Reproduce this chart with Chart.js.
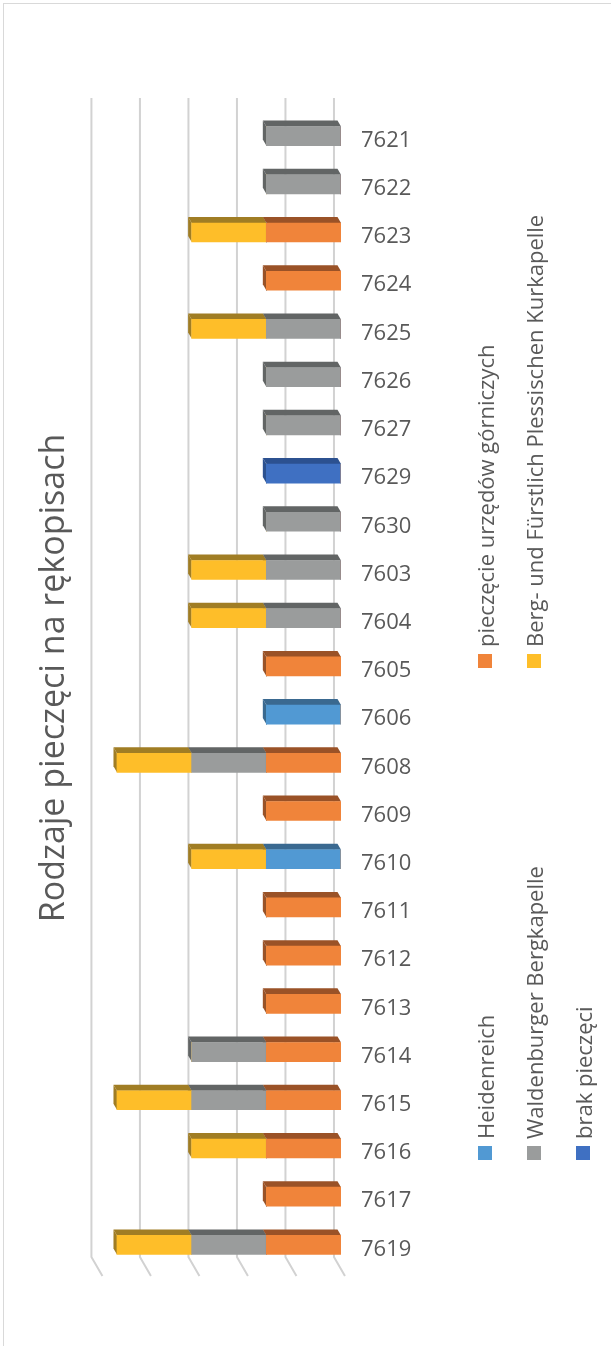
<!DOCTYPE html>
<html><head><meta charset="utf-8">
<script src="https://cdn.jsdelivr.net/npm/chart.js@4"></script>
<style>
html,body{margin:0;padding:0;background:#fff;}
#wrap{position:relative;width:611px;height:1346px;overflow:hidden;background:#fff;}
#frame{position:absolute;left:3px;top:3px;width:700px;height:1400px;border-left:1.5px solid #d9d9d9;border-top:1.5px solid #d9d9d9;box-sizing:border-box;}
#c{position:absolute;left:0;top:0;}
.lg{position:absolute;transform-origin:0 0;transform:rotate(-90deg);white-space:nowrap;font-family:"Open Sans",sans-serif;font-size:22px;color:#595959;height:24px;line-height:24px;display:flex;align-items:center;}
.lg i{display:inline-block;width:14px;height:14px;margin-right:7px;flex:none;}
</style></head>
<body>
<div id="wrap">
<div id="frame"></div>
<canvas id="c" width="611" height="1346"></canvas>
</div>
<script>
// ---- data ----
const categories = ['7621','7622','7623','7624','7625','7626','7627','7629','7630','7603','7604','7605','7606','7608','7609','7610','7611','7612','7613','7614','7615','7616','7617','7619'];
const pieczecieUrzedow = [0,0,1,1,0,0,0,0,0,0,0,1,0,1,1,0,1,1,1,1,1,1,1,1];
const heidenreich      = [0,0,0,0,0,0,0,0,0,0,0,0,1,0,0,1,0,0,0,0,0,0,0,0];
const brakPieczeci     = [0,0,0,0,0,0,0,1,0,0,0,0,0,0,0,0,0,0,0,0,0,0,0,0];
const waldenburger     = [1,1,0,0,1,1,1,0,1,1,1,0,0,1,0,0,0,0,0,1,1,0,0,1];
const bergKurkapelle   = [0,0,1,0,1,0,0,0,0,1,1,0,0,1,0,1,0,0,0,0,1,1,0,1];
const seriesNames = ['pieczęcie urzędów górniczych','Heidenreich','brak pieczęci','Waldenburger Bergkapelle','Berg- und Fürstlich Plessischen Kurkapelle'];
const gridTicks = [0,1,2,3,4,5];
const titleText = 'Rodzaje pieczęci na rękopisach';

// ---- styles ----
const front = ['#F0843A','#5199D3','#3F70C2','#9A9C9C','#FEBE29'];
const side  = ['#9A5227','#3A6990','#2C5190','#626565','#A07D24'];
const seriesData = [pieczecieUrzedow, heidenreich, brakPieczeci, waldenburger, bergKurkapelle];

const DX = -3.5, DY = -6;
const wallGrid = {
  id:'wallGrid',
  beforeDatasetsDraw(chart){
    const ctx = chart.ctx, a = chart.chartArea, s = chart.scales.x2;
    const yTop = a.top - 14, yBot = a.bottom - 12;
    ctx.save();
    ctx.strokeStyle = '#D2D2D2'; ctx.lineWidth = 2;
    gridTicks.forEach(g => {
      const px = s.getPixelForValue(g);
      ctx.beginPath();
      ctx.moveTo(px, yTop); ctx.lineTo(px, yBot); ctx.lineTo(px + 11, yBot + 19);
      ctx.stroke();
    });
    // 3D faces
    chart.data.datasets.forEach((ds, i) => {
      const meta = chart.getDatasetMeta(i);
      meta.data.forEach(el => {
        const l = Math.min(el.x, el.base), r = Math.max(el.x, el.base);
        if (r - l < 0.5) return;
        const t = el.y - el.height/2, b = el.y + el.height/2;
        ctx.fillStyle = side[i];
        ctx.beginPath();
        ctx.moveTo(l, t); ctx.lineTo(r, t); ctx.lineTo(r + DX, t + DY); ctx.lineTo(l + DX, t + DY); ctx.closePath();
        ctx.fill();
        ctx.beginPath();
        ctx.moveTo(l, t); ctx.lineTo(l + DX, t + DY); ctx.lineTo(l + DX, b + DY); ctx.lineTo(l, b); ctx.closePath();
        ctx.fill();
      });
    });
    ctx.restore();
  }
};

new Chart(document.getElementById('c'), {
  type:'bar',
  data:{
    labels: categories,
    datasets: seriesNames.map((n,i) => ({label:n, data:seriesData[i], backgroundColor:front[i], borderWidth:0, barThickness:19}))
  },
  options:{
    responsive:false, animation:false, indexAxis:'y',
    layout:{padding:{left:5, right:190, top:87, bottom:77}},
    plugins:{
      legend:{display:false}, tooltip:{enabled:false},
      title:{display:true, position:'left', text:titleText, color:'#595959',
        font:{family:'"Open Sans"', size:34, weight:'400', lineHeight:1.2},
        padding:{top:28.6, bottom:13}}
    },
    scales:{
      x:{stacked:true, reverse:true, min:0, max:3.396, display:false},
      x2:{type:'linear', position:'top', reverse:true, min:-0.145, max:5.083, display:true,
        ticks:{display:false}, grid:{display:false, drawTicks:false}, border:{display:false},
        afterFit(s){ s.height = 25; }},
      y:{stacked:true, position:'right', grid:{display:false, drawTicks:false}, border:{display:false},
        ticks:{color:'#595959', padding:20, labelOffset:4.5, font:{family:'"Open Sans"', size:22}},
        afterFit(s){ s.width = 80; }}
    }
  },
  plugins:[wallGrid]
});

// ---- legend (HTML, rotated) ----
const legendPos = [[473,668],[473,1160],[571,1160],[522,1160],[522,668]];
const wrap = document.getElementById('wrap');
seriesNames.forEach((n,i) => {
  const d = document.createElement('div');
  d.className = 'lg';
  d.style.left = legendPos[i][0] + 'px';
  d.style.top = legendPos[i][1] + 'px';
  const m = document.createElement('i'); m.style.background = front[i];
  d.appendChild(m);
  d.appendChild(document.createTextNode(n));
  wrap.appendChild(d);
});
</script>
</body></html>
